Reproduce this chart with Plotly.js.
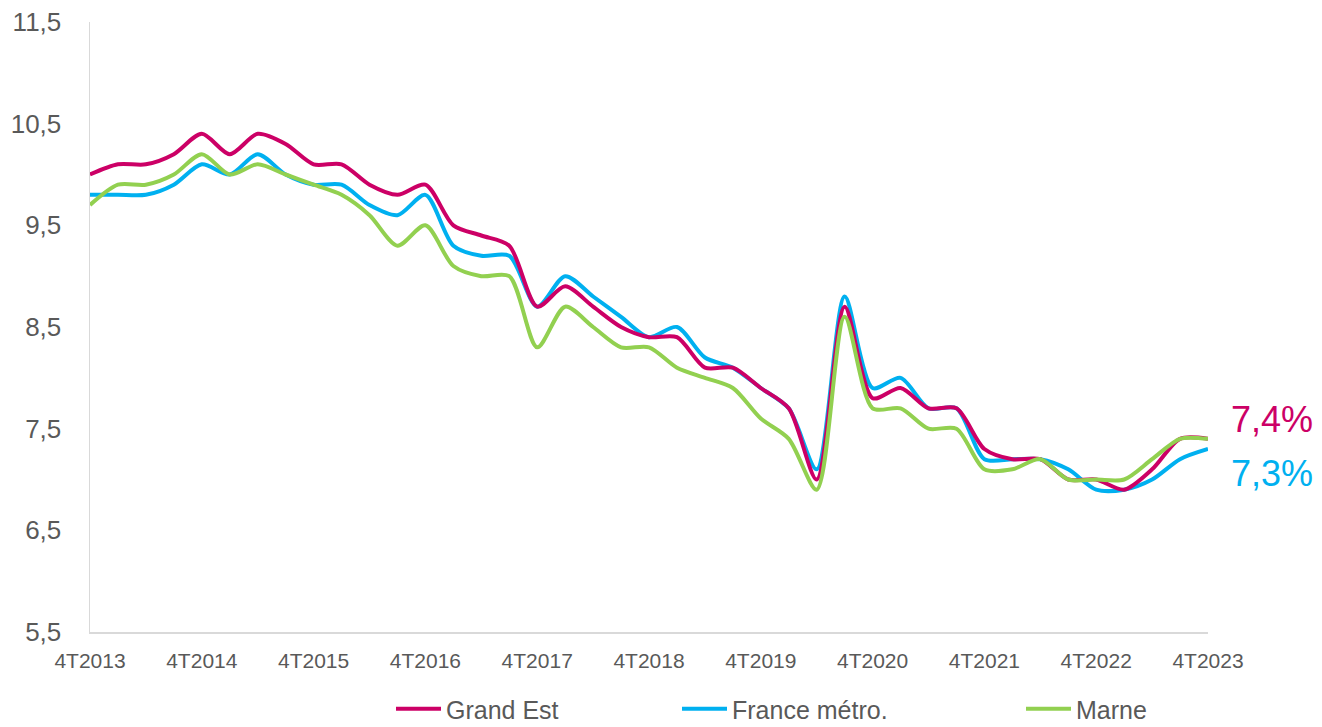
<!DOCTYPE html>
<html>
<head>
<meta charset="utf-8">
<script src="https://cdn.plot.ly/plotly-3.0.1.min.js"></script>
<style>html,body{margin:0;padding:0;background:#fff;}#chart{width:1322px;height:727px;}</style>
</head>
<body>
<div id="chart"></div>
<script>
const quarters = ["4T2013","1T2014","2T2014","3T2014","4T2014","1T2015","2T2015","3T2015","4T2015","1T2016","2T2016","3T2016","4T2016","1T2017","2T2017","3T2017","4T2017","1T2018","2T2018","3T2018","4T2018","1T2019","2T2019","3T2019","4T2019","1T2020","2T2020","3T2020","4T2020","1T2021","2T2021","3T2021","4T2021","1T2022","2T2022","3T2022","4T2022","1T2023","2T2023","3T2023","4T2023"];
const grandEst = [10.0,10.1,10.1,10.2,10.4,10.2,10.4,10.3,10.1,10.1,9.9,9.8,9.9,9.5,9.4,9.3,8.7,8.9,8.7,8.5,8.4,8.4,8.1,8.1,7.9,7.7,7.0,8.7,7.8,7.9,7.7,7.7,7.3,7.2,7.2,7.0,7.0,6.9,7.1,7.4,7.4];
const franceMetro = [9.8,9.8,9.8,9.9,10.1,10.0,10.2,10.0,9.9,9.9,9.7,9.6,9.8,9.3,9.2,9.2,8.7,9.0,8.8,8.6,8.4,8.5,8.2,8.1,7.9,7.7,7.1,8.8,7.9,8.0,7.7,7.7,7.2,7.2,7.2,7.1,6.9,6.9,7.0,7.2,7.3];
const marne = [9.7,9.9,9.9,10.0,10.2,10.0,10.1,10.0,9.9,9.8,9.6,9.3,9.5,9.1,9.0,9.0,8.3,8.7,8.5,8.3,8.3,8.1,8.0,7.9,7.6,7.4,6.9,8.6,7.7,7.7,7.5,7.5,7.1,7.1,7.2,7.0,7.0,7.0,7.2,7.4,7.4];
const seriesNames = ["Grand Est","France métro.","Marne"];
const seriesColors = ["#CC0066","#00B0F0","#92D050"];
const tickLabels = ["4T2013","4T2014","4T2015","4T2016","4T2017","4T2018","4T2019","4T2020","4T2021","4T2022","4T2023"];
const endLabels = ["7,4%","7,3%"];

const xIdx = quarters.map((q,i)=>i);
const tickIdx = tickLabels.map(t => quarters.indexOf(t));
const allSeries = [grandEst, franceMetro, marne];
const legendIds = ["legend","legend2","legend3"];

const traces = allSeries.map((vals,k)=>({
  x: xIdx, y: vals, type:'scatter', mode:'lines', name: seriesNames[k],
  line:{color: seriesColors[k], width:4, shape:'spline', smoothing:0.8},
  legend: legendIds[k], hoverinfo:'skip'
}));
const ordered = [traces[1], traces[0], traces[2]];

const font = {family:'"Liberation Sans", Arial, sans-serif', color:'#595959'};
const legendBase = {orientation:'h', yanchor:'middle', xanchor:'left', xref:'container', yref:'container',
  y:(727-709)/727, font:Object.assign({}, font, {size:25}), bgcolor:'rgba(0,0,0,0)', itemwidth:45};

const layout = {
  width:1322, height:727,
  margin:{l:90, r:114, t:22, b:95, autoexpand:false},
  paper_bgcolor:'#fff', plot_bgcolor:'#fff',
  separators:', ',
  font: font,
  showlegend:true,
  xaxis:{range:[0, quarters.length-1], tickmode:'array', tickvals:tickIdx, ticktext:tickLabels,
    showgrid:false, zeroline:false, showline:true, linecolor:'#D9D9D9', linewidth:1.5,
    ticks:'', tickfont:Object.assign({}, font, {size:21}), ticklabelstandoff:9, fixedrange:true},
  yaxis:{range:[5.5, 11.5], tickmode:'linear', tick0:5.5, dtick:1, tickformat:'.1f',
    showgrid:false, zeroline:false, showline:true, linecolor:'#D9D9D9', linewidth:1.5,
    ticks:'', tickfont:Object.assign({}, font, {size:26}), ticklabelstandoff:22, fixedrange:true},
  legend: Object.assign({}, legendBase, {x:391/1322}),
  legend2: Object.assign({}, legendBase, {x:677/1322}),
  legend3: Object.assign({}, legendBase, {x:1021/1322}),
  annotations:[
    {xref:'paper', yref:'y', x:1.019, y:grandEst[grandEst.length-1]+0.19, xanchor:'left', yanchor:'middle',
      text:endLabels[0], showarrow:false, font:Object.assign({}, font, {size:36, color:seriesColors[0]})},
    {xref:'paper', yref:'y', x:1.019, y:franceMetro[franceMetro.length-1]-0.24, xanchor:'left', yanchor:'middle',
      text:endLabels[1], showarrow:false, font:Object.assign({}, font, {size:36, color:seriesColors[1]})}
  ]
};
Plotly.newPlot('chart', ordered, layout, {displayModeBar:false, staticPlot:true});
</script>
</body>
</html>
